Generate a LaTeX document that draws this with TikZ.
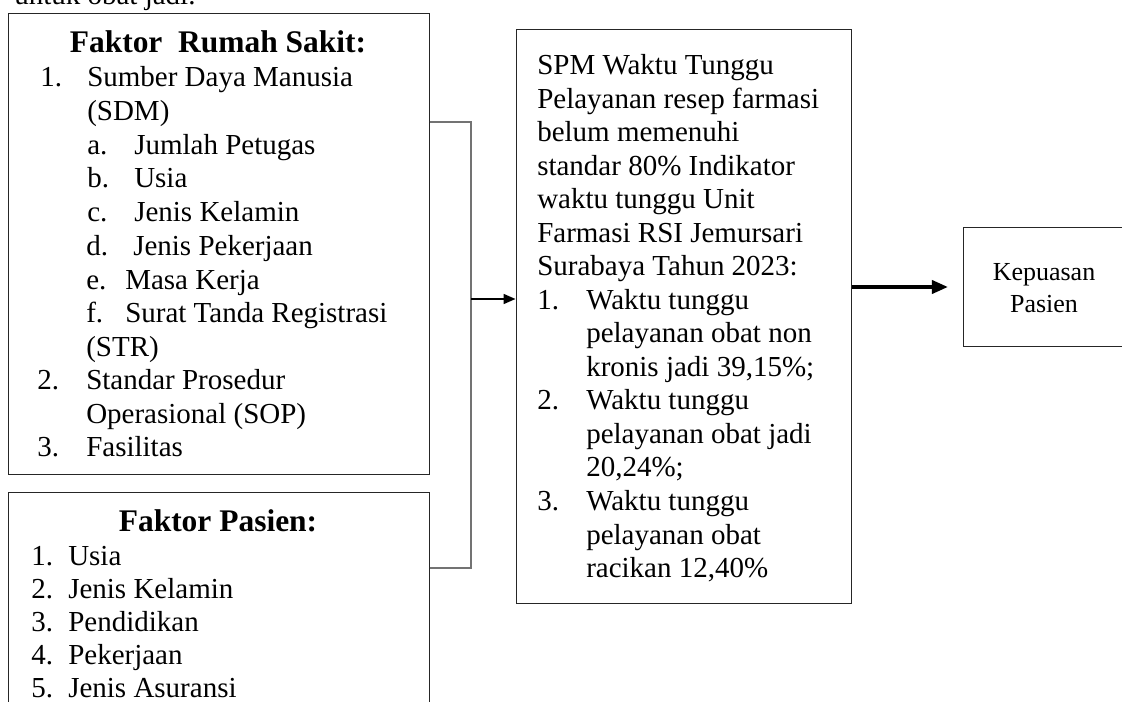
\documentclass[tikz,border=0pt]{standalone}
\usepackage{fontspec}
\setmainfont{Liberation Serif}
\usetikzlibrary{arrows.meta,fit}

\newcommand{\bodyfont}{\fontsize{21.75pt}{25pt}\selectfont}
\newcommand{\headfont}{\fontsize{23.6pt}{27pt}\selectfont\bfseries}
\newcommand{\smallfont}{\fontsize{19.5pt}{24pt}\selectfont}

\begin{document}
\begin{tikzpicture} [x=0.75pt, y=-0.75pt,
  box/.style={draw=black!85, line width=0.75pt, inner sep=0pt},
  txt/.style={anchor=base west, inner sep=0pt, font=\bodyfont},
  head/.style={anchor=base, inner sep=0pt, font=\headfont},
  link/.style={draw=black!55, line width=0.8pt},
  arr/.style={line width=1.3pt, -{Triangle[length=9pt,width=7.5pt]}}]
 \useasboundingbox (0,0) rectangle (1122,702);
 \clip (0,0) rectangle (1122,702);
 % boxes
 \node [box, fit={(8,14) (429,475)}] (rs) {};
 \node [box, fit={(8,492) (429,720)}] (ps) {};
 \node [box, fit={(516,30) (851,603)}] (spm) {};
 \node [box, fit={(963,228) (1140,347)}] (kp) {};
 % end of the paragraph above the figure
 \draw (14,5) node [txt] (prev) {untuk obat jadi.};
 % Faktor Rumah Sakit
 \draw (218,53) node [head] (rsh) {Faktor\ \ Rumah Sakit:};
 \draw (40,87) node [txt] (rn1) {1.};
 \draw (87,87) node [txt] (r1) {Sumber Daya Manusia};
 \draw (87,121) node [txt] (r1b) {(SDM)};
 \draw (87,155) node [txt] (ra) {a.};
 \draw (134,155) node [txt] (r1a) {Jumlah Petugas};
 \draw (87,188) node [txt] (rb) {b.};
 \draw (134,188) node [txt] (r1bb) {Usia};
 \draw (87,222) node [txt] (rc) {c.};
 \draw (134,222) node [txt] (r1c) {Jenis Kelamin};
 \draw (86,256) node [txt] (rd) {d.};
 \draw (133,256) node [txt] (r1d) {Jenis Pekerjaan};
 \draw (86,290) node [txt] (re) {e.};
 \draw (125,290) node [txt] (r1e) {Masa Kerja};
 \draw (86,323) node [txt] (rf) {f.};
 \draw (125,323) node [txt] (r1f) {Surat Tanda Registrasi};
 \draw (86,357) node [txt] (r1g) {(STR)};
 \draw (37,390) node [txt] (rn2) {2.};
 \draw (86,390) node [txt] (r2) {Standar Prosedur};
 \draw (86,424) node [txt] (r2b) {Operasional (SOP)};
 \draw (37,457) node [txt] (rn3) {3.};
 \draw (86,457) node [txt] (r3) {Fasilitas};
 % Faktor Pasien
 \draw (218,532) node [head] (psh) {Faktor Pasien:};
 \draw (31,565) node [txt] (pn1) {1.};
 \draw (68,565) node [txt] (p1) {Usia};
 \draw (31,598) node [txt] (pn2) {2.};
 \draw (68,598) node [txt] (p2) {Jenis Kelamin};
 \draw (31,631) node [txt] (pn3) {3.};
 \draw (68,631) node [txt] (p3) {Pendidikan};
 \draw (31,664) node [txt] (pn4) {4.};
 \draw (68,664) node [txt] (p4) {Pekerjaan};
 \draw (31,697) node [txt] (pn5) {5.};
 \draw (68,697) node [txt] (p5) {Jenis Asuransi};
 % SPM waktu tunggu
 \draw (537,75) node [txt] (s1) {SPM Waktu Tunggu};
 \draw (537,108.5) node [txt] (s2) {Pelayanan resep farmasi};
 \draw (537,142) node [txt] (s3) {belum memenuhi};
 \draw (537,175.5) node [txt] (s4) {standar 80\% Indikator};
 \draw (537,209) node [txt] (s5) {waktu tunggu Unit};
 \draw (537,242.5) node [txt] (s6) {Farmasi RSI Jemursari};
 \draw (537,276) node [txt] (s7) {Surabaya Tahun 2023:};
 \draw (537,309.5) node [txt] (sn1) {1.};
 \draw (586,309.5) node [txt] (s8) {Waktu tunggu};
 \draw (586,343) node [txt] (s9) {pelayanan obat non};
 \draw (586,376.5) node [txt] (s10) {kronis jadi 39,15\%;};
 \draw (537,410) node [txt] (sn2) {2.};
 \draw (586,410) node [txt] (s11) {Waktu tunggu};
 \draw (586,443.5) node [txt] (s12) {pelayanan obat jadi};
 \draw (586,477) node [txt] (s13) {20,24\%;};
 \draw (537,510.5) node [txt] (sn3) {3.};
 \draw (586,510.5) node [txt] (s14) {Waktu tunggu};
 \draw (586,544) node [txt] (s15) {pelayanan obat};
 \draw (586,577.5) node [txt] (s16) {racikan 12,40\%};
 % Kepuasan Pasien
 \draw (1044,281) node [anchor=base, inner sep=0pt, font=\smallfont] (kp1) {Kepuasan};
 \draw (1044,313) node [anchor=base, inner sep=0pt, font=\smallfont] (kp2) {Pasien};
 % connectors
 \coordinate (jn) at (471,299);
 \draw [link] (rs.east |- 0,122) -| (jn);
 \draw [link] (ps.east |- 0,568) -| (jn);
 \draw [arr] (jn) -- (spm.west |- jn);
 \draw [line width=2.4pt, -{Triangle[length=12pt,width=10pt]}, shorten >=11pt] (spm.east |- 0,287) -- (kp.west |- 0,287);
\end{tikzpicture}
\end{document}
